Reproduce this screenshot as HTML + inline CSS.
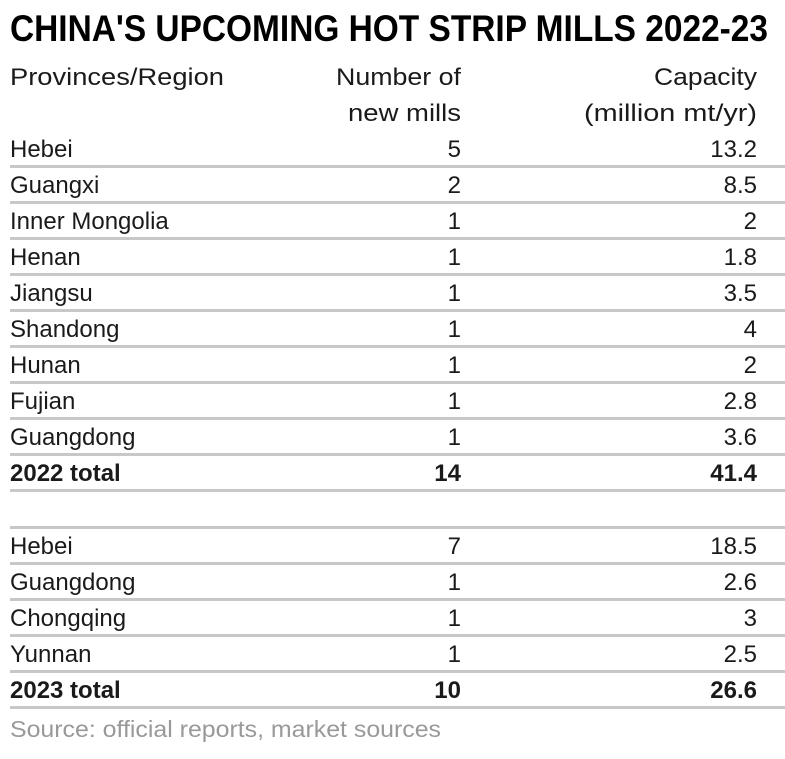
<!DOCTYPE html>
<html><head><meta charset="utf-8"><style>
html,body{margin:0;padding:0;background:#fff;}
svg{display:block;}
text{font-family:"Liberation Sans Narrow","Liberation Sans",sans-serif;fill:#1a1a1a;}
.t{font-size:24px;}
.b{font-size:24px;font-weight:bold;}
.h{font-size:24px;}
</style></head><body>
<svg width="785" height="759" viewBox="0 0 785 759" xmlns="http://www.w3.org/2000/svg">
<text x="10" y="41" font-size="37" font-weight="bold" textLength="758" lengthAdjust="spacingAndGlyphs" style="fill:#000">CHINA'S UPCOMING HOT STRIP MILLS 2022-23</text>
<text class="h" x="10" y="85" textLength="214" lengthAdjust="spacingAndGlyphs">Provinces/Region</text>
<text class="h" x="336" y="85" textLength="125" lengthAdjust="spacingAndGlyphs">Number of</text>
<text class="h" x="348" y="121" textLength="113" lengthAdjust="spacingAndGlyphs">new mills</text>
<text class="h" x="654" y="85" textLength="103" lengthAdjust="spacingAndGlyphs">Capacity</text>
<text class="h" x="584" y="121" textLength="173" lengthAdjust="spacingAndGlyphs">(million mt/yr)</text>
<g fill="#c8c8c8">
<rect x="10" y="165" width="775" height="3"/>
<rect x="10" y="201" width="775" height="3"/>
<rect x="10" y="237" width="775" height="3"/>
<rect x="10" y="273" width="775" height="3"/>
<rect x="10" y="309" width="775" height="3"/>
<rect x="10" y="345" width="775" height="3"/>
<rect x="10" y="381" width="775" height="3"/>
<rect x="10" y="417" width="775" height="3"/>
<rect x="10" y="453" width="775" height="3"/>
<rect x="10" y="489" width="775" height="3"/>
<rect x="10" y="526" width="775" height="3"/>
<rect x="10" y="562" width="775" height="3"/>
<rect x="10" y="598" width="775" height="3"/>
<rect x="10" y="634" width="775" height="3"/>
<rect x="10" y="670" width="775" height="3"/>
<rect x="10" y="706" width="775" height="3"/>
</g>
<g class="t">
<text class="t" x="10" y="157">Hebei</text><text class="t" x="461" y="157" text-anchor="end">5</text><text class="t" x="757" y="157" text-anchor="end">13.2</text>
<text class="t" x="10" y="193">Guangxi</text><text class="t" x="461" y="193" text-anchor="end">2</text><text class="t" x="757" y="193" text-anchor="end">8.5</text>
<text class="t" x="10" y="229">Inner Mongolia</text><text class="t" x="461" y="229" text-anchor="end">1</text><text class="t" x="757" y="229" text-anchor="end">2</text>
<text class="t" x="10" y="265">Henan</text><text class="t" x="461" y="265" text-anchor="end">1</text><text class="t" x="757" y="265" text-anchor="end">1.8</text>
<text class="t" x="10" y="301">Jiangsu</text><text class="t" x="461" y="301" text-anchor="end">1</text><text class="t" x="757" y="301" text-anchor="end">3.5</text>
<text class="t" x="10" y="337">Shandong</text><text class="t" x="461" y="337" text-anchor="end">1</text><text class="t" x="757" y="337" text-anchor="end">4</text>
<text class="t" x="10" y="373">Hunan</text><text class="t" x="461" y="373" text-anchor="end">1</text><text class="t" x="757" y="373" text-anchor="end">2</text>
<text class="t" x="10" y="409">Fujian</text><text class="t" x="461" y="409" text-anchor="end">1</text><text class="t" x="757" y="409" text-anchor="end">2.8</text>
<text class="t" x="10" y="445">Guangdong</text><text class="t" x="461" y="445" text-anchor="end">1</text><text class="t" x="757" y="445" text-anchor="end">3.6</text>
<text class="b" x="10" y="481">2022 total</text><text class="b" x="461" y="481" text-anchor="end">14</text><text class="b" x="757" y="481" text-anchor="end">41.4</text>
<text class="t" x="10" y="554">Hebei</text><text class="t" x="461" y="554" text-anchor="end">7</text><text class="t" x="757" y="554" text-anchor="end">18.5</text>
<text class="t" x="10" y="590">Guangdong</text><text class="t" x="461" y="590" text-anchor="end">1</text><text class="t" x="757" y="590" text-anchor="end">2.6</text>
<text class="t" x="10" y="626">Chongqing</text><text class="t" x="461" y="626" text-anchor="end">1</text><text class="t" x="757" y="626" text-anchor="end">3</text>
<text class="t" x="10" y="662">Yunnan</text><text class="t" x="461" y="662" text-anchor="end">1</text><text class="t" x="757" y="662" text-anchor="end">2.5</text>
<text class="b" x="10" y="698">2023 total</text><text class="b" x="461" y="698" text-anchor="end">10</text><text class="b" x="757" y="698" text-anchor="end">26.6</text>
</g>
<text x="10" y="737" font-size="23" textLength="431" lengthAdjust="spacingAndGlyphs" style="fill:#999">Source: official reports, market sources</text>
</svg>
</body></html>
